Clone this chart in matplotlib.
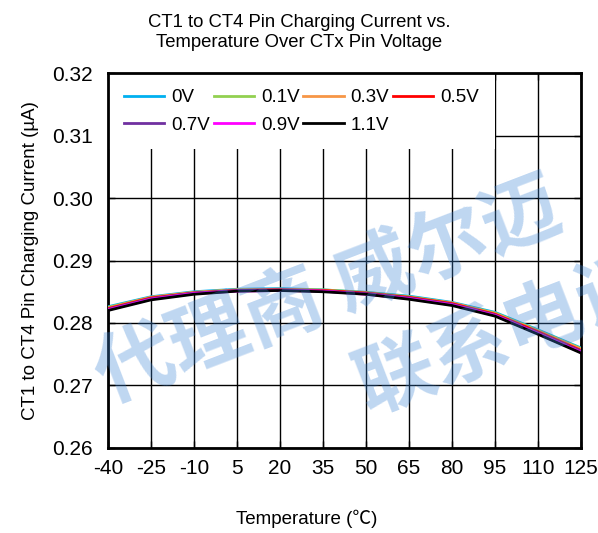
import matplotlib
matplotlib.use("Agg")
import matplotlib.pyplot as plt

# ===== Datos =====
temps = [-40, -25, -10, 5, 20, 35, 50, 65, 80, 95, 110, 125]
labels = ["0V", "0.1V", "0.3V", "0.5V", "0.7V", "0.9V", "1.1V"]
colors = ["#00b0f0", "#92d050", "#f79646", "#ff0000", "#7030a0", "#ff00ff", "#000000"]

i_0v0 = [0.2826, 0.2842, 0.2850, 0.2854, 0.2855, 0.2853, 0.2849, 0.2843, 0.2833, 0.2817, 0.2789, 0.2760]
i_0v1 = [0.2825, 0.2841, 0.2849, 0.2853, 0.2854, 0.2853, 0.2849, 0.2842, 0.2832, 0.2816, 0.2788, 0.2759]
i_0v3 = [0.2824, 0.2841, 0.2849, 0.2853, 0.2854, 0.2852, 0.2848, 0.2841, 0.2832, 0.2815, 0.2787, 0.2758]
i_0v5 = [0.2823, 0.2840, 0.2848, 0.2852, 0.2853, 0.2852, 0.2848, 0.2841, 0.2831, 0.2814, 0.2786, 0.2756]
i_0v7 = [0.2822, 0.2839, 0.2848, 0.2852, 0.2853, 0.2851, 0.2847, 0.2840, 0.2830, 0.2813, 0.2784, 0.2755]
i_0v9 = [0.2821, 0.2838, 0.2847, 0.2851, 0.2852, 0.2851, 0.2846, 0.2839, 0.2829, 0.2812, 0.2783, 0.2753]
i_1v1 = [0.2820, 0.2837, 0.2846, 0.2851, 0.2852, 0.2850, 0.2846, 0.2838, 0.2828, 0.2811, 0.2782, 0.2752]
series = [i_0v0, i_0v1, i_0v3, i_0v5, i_0v7, i_0v9, i_1v1]

yticks = [0.26, 0.27, 0.28, 0.29, 0.30, 0.31, 0.32]

plt.rcParams["font.family"] = ["Liberation Sans", "DejaVu Sans"]
plt.rcParams["axes.unicode_minus"] = False

# ===== Figura =====
fig = plt.figure(figsize=(5.98, 5.33), dpi=100)
ax = fig.add_axes([0.1806, 0.1595, 0.791, 0.7035])

handles = []
for vals, lab, col in zip(series, labels, colors):
    h, = ax.plot(temps, vals, color=col, lw=2, label=lab, zorder=3)
    handles.append(h)

ax.set_xlim(-40, 125)
ax.set_ylim(0.26, 0.32)
ax.set_xticks(temps)
ax.set_yticks(yticks)
ax.set_yticklabels([f"{v:.2f}" for v in yticks])
ax.grid(True, color="black", lw=1, zorder=1)
ax.set_axisbelow(True)
ax.tick_params(direction="in", length=5, width=1, top=True, right=True, labelsize=15)
ax.tick_params(axis="x", pad=8)
ax.tick_params(axis="y", pad=11)
for s in ax.spines.values():
    s.set_linewidth(2)

ax.set_ylabel("CT1 to CT4 Pin Charging Current (µA)", fontsize=13.5, labelpad=9)
fig.text(0.513, 0.026, "Temperature (℃)", ha="center", va="center", fontsize=13.5,
         family=["Liberation Sans", "Noto Sans CJK SC", "DejaVu Sans"])
fig.text(0.5, 0.939, "CT1 to CT4 Pin Charging Current vs.\nTemperature Over CTx Pin Voltage",
         ha="center", va="center", fontsize=13.3, linespacing=1.25)

# orden por filas en la leyenda
order = [0, 4, 1, 5, 2, 6, 3]
leg = ax.legend([handles[i] for i in order], [labels[i] for i in order],
                loc="upper left", ncol=4, fontsize=13.5, frameon=True, fancybox=False,
                borderaxespad=0, borderpad=0.85, handlelength=2.15, handletextpad=0.37,
                columnspacing=0.2, labelspacing=0.55)
leg.get_frame().set_edgecolor("none")
leg.get_frame().set_facecolor("white")
leg.get_frame().set_alpha(1)
leg.set_zorder(2)

# marca de agua
wm = dict(fontsize=57, color="#3d85d6", alpha=0.33, rotation=21, rotation_mode="anchor",
          ha="left", va="center", weight="bold", family=["Noto Sans CJK SC", "DejaVu Sans"],
          zorder=10)
fig.text(0.165, 0.285, "代理商 威尔迈", **wm)
fig.text(0.602, 0.265, "联系电话", **wm)

fig.savefig("out.png", dpi=100)
